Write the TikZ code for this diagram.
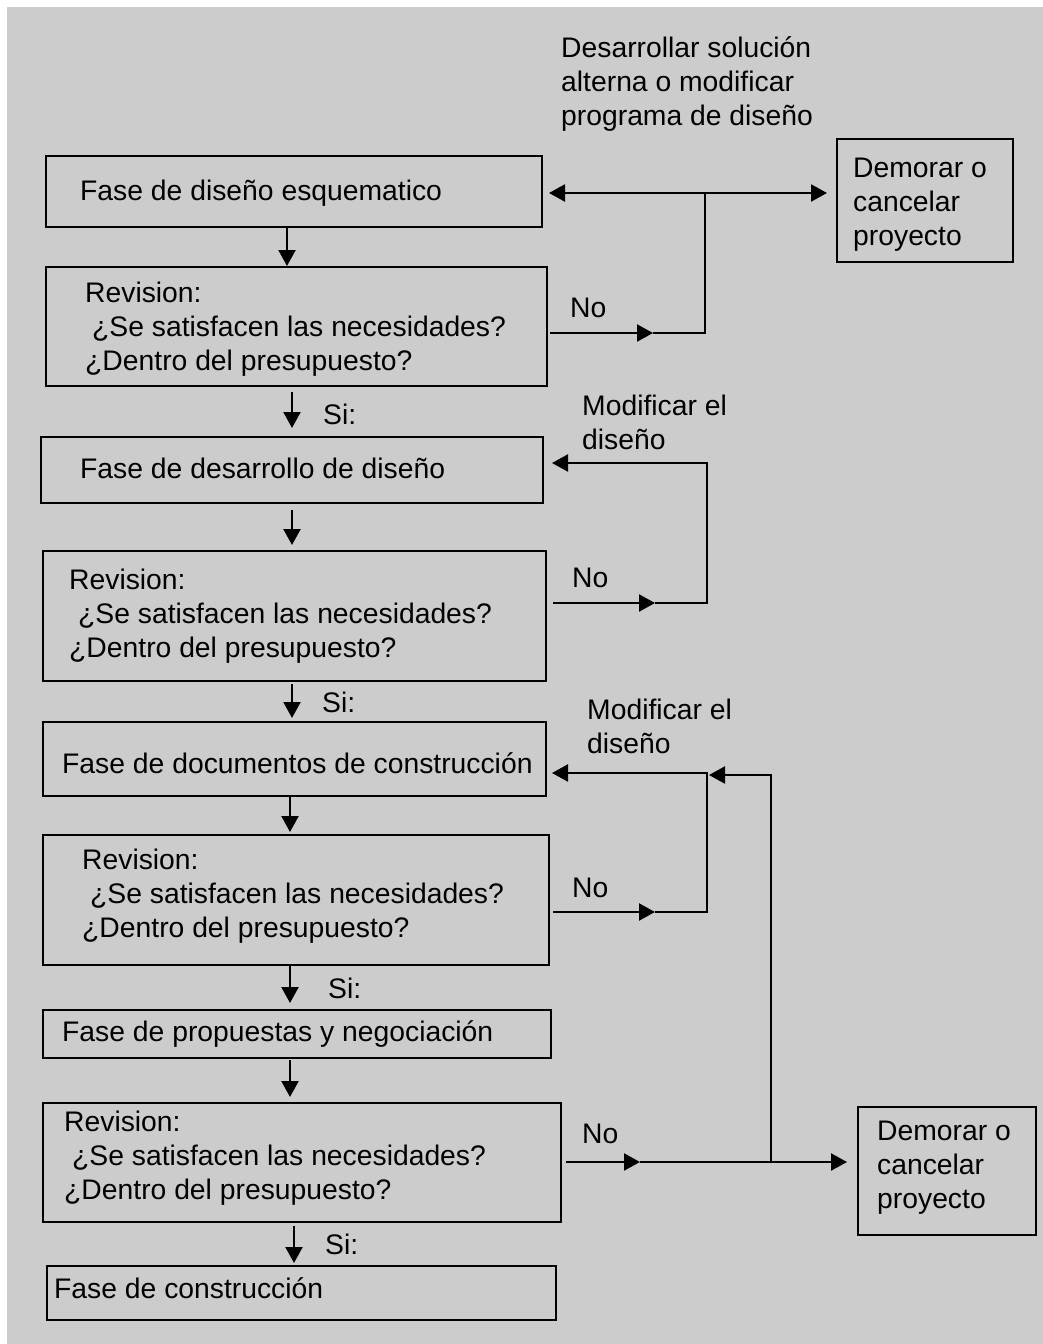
\documentclass[tikz,border=0pt]{standalone}
\usepackage{fontspec}
\setmainfont{Liberation Sans}
\usetikzlibrary{arrows.meta,calc}

\definecolor{panel}{HTML}{CCCCCC}

\begin{document}
\begin{tikzpicture}[x=1pt,y=-1pt,
  box/.style={draw, line width=2pt, inner sep=0pt, outer sep=0pt},
  txt/.style={inner sep=0pt, align=left, anchor=west,
    font=\fontsize{28.3}{34}\selectfont},
  line/.style={line width=2.2pt},
  arr/.style={line width=2.2pt, -{Triangle[length=16pt,width=17pt]}},
  biarr/.style={line width=2.2pt, {Triangle[length=16pt,width=17pt]}-{Triangle[length=16pt,width=17pt]}}
]
\useasboundingbox (0,0) rectangle (1043,1344);
\fill[white] (0,0) rectangle (1043,1344);
\fill[panel] (7,7) rectangle (1043,1344);

% main column of phases and reviews
\node[box, minimum width=496pt, minimum height=71pt]  (b1) at (294,191.5) {};
\node[box, minimum width=501pt, minimum height=119pt] (r1) at (296.5,326.5) {};
\node[box, minimum width=502pt, minimum height=66pt]  (b2) at (292,470) {};
\node[box, minimum width=503pt, minimum height=130pt] (r2) at (294.5,616) {};
\node[box, minimum width=503pt, minimum height=74pt]  (b3) at (294.5,759) {};
\node[box, minimum width=506pt, minimum height=130pt] (r3) at (296,900) {};
\node[box, minimum width=508pt, minimum height=48pt]  (b4) at (297,1034) {};
\node[box, minimum width=518pt, minimum height=119pt] (r4) at (302,1162.5) {};
\node[box, minimum width=509pt, minimum height=54pt]  (b5) at (301.5,1293) {};
% side boxes
\node[box, minimum width=176pt, minimum height=123pt] (d1) at (925,200.5) {};
\node[box, minimum width=178pt, minimum height=128pt] (d2) at (947,1171) {};

% box texts
\node[txt] (b1t) at ($(b1.west)+(34,1.5)$) {Fase de diseño esquematico};
\node[txt] (r1t) at ($(r1.west)+(39,2.5)$) {Revision:\\\hspace*{7pt}¿Se satisfacen las necesidades?\\¿Dentro del presupuesto?};
\node[txt] (b2t) at ($(b2.west)+(39,-2)$) {Fase de desarrollo de diseño};
\node[txt] (r2t) at ($(r2.west)+(26,0)$) {Revision:\\\hspace*{9pt}¿Se satisfacen las necesidades?\\¿Dentro del presupuesto?};
\node[txt] (b3t) at ($(b3.west)+(19,4)$) {Fase de documentos de construcción};
\node[txt] (r3t) at ($(r3.west)+(39,-4)$) {Revision:\\\hspace*{8pt}¿Se satisfacen las necesidades?\\¿Dentro del presupuesto?};
\node[txt] (b4t) at ($(b4.west)+(19,0)$) {Fase de propuestas y negociación};
\node[txt] (r4t) at ($(r4.west)+(21,-4)$) {Revision:\\\hspace*{8pt}¿Se satisfacen las necesidades?\\¿Dentro del presupuesto?};
\node[txt] (b5t) at ($(b5.west)+(7,-5)$) {Fase de construcción};
\node[txt] (d1t) at ($(d1.west)+(16,4)$) {Demorar o\\cancelar\\proyecto};
\node[txt] (d2t) at ($(d2.west)+(19,-3)$) {Demorar o\\cancelar\\proyecto};

% free labels
\node[txt] (alt)  at (561,84)  {Desarrollar solución\\alterna o modificar\\programa de diseño};
\node[txt] (mod1) at (582,422) {Modificar el\\diseño};
\node[txt] (mod2) at (587,726) {Modificar el\\diseño};
\node[txt] (no1) at (570,308)  {No};
\node[txt] (no2) at (572,578)  {No};
\node[txt] (no3) at (572,888)  {No};
\node[txt] (no4) at (582,1134) {No};
\node[txt] (si1) at (323,414)  {Si:};
\node[txt] (si2) at (322,702)  {Si:};
\node[txt] (si3) at (328,988)  {Si:};
\node[txt] (si4) at (325,1244) {Si:};

% downward flow
\draw[arr] ($(b1.south)+(-7,0)$)   -- ($(r1.north)+(-9.5,-1)$);
\draw[arr] ($(r1.south)+(-4.5,6)$) -- ($(b2.north)+(0,-9)$);
\draw[arr] ($(b2.south)+(0,7)$)    -- ($(r2.north)+(-2.5,-6)$);
\draw[arr] ($(r2.south)+(-2.5,3)$) -- ($(b3.north)+(-2.5,-4)$);
\draw[arr] ($(b3.south)+(-4.5,1)$) -- ($(r3.north)+(-6,-3)$);
\draw[arr] ($(r3.south)+(-6,1)$)   -- ($(b4.north)+(-7,-7)$);
\draw[arr] ($(b4.south)+(-7,2)$)   -- ($(r4.north)+(-12,-6)$);
\draw[arr] ($(r4.south)+(-8,4)$)   -- ($(b5.north)+(-7.5,-3)$);

% junction points of the return lines
\coordinate (j1) at (705,193);
\coordinate (k1) at (705,333);
\coordinate (n1) at (653,333);
\coordinate (j2) at (707,463);
\coordinate (k2) at (707,603);
\coordinate (n2) at (655,603);
\coordinate (j3) at (707,773);
\coordinate (k3) at (707,912);
\coordinate (n3) at (655,912);
\coordinate (j4) at (771,775);
\coordinate (m4) at (709,775);
\coordinate (k4) at (771,1162);
\coordinate (n4) at (640,1162);

% first review: back to the schematic phase or delay
\draw[biarr] ($(b1.east)+(7,1.5)$) -- ($(d1.west)+(-10,-7.5)$);
\draw[arr] ($(r1.east)+(3,6.5)$) -- (n1);
\draw[line] (n1) -- (k1) -- (j1);

% second review: modify the design
\draw[arr] ($(r2.east)+(7,-13)$) -- (n2);
\draw[arr] (n2) -- (k2) -- (j2) -- ($(b2.east)+(9,-7)$);

% third review: modify the design
\draw[arr] ($(r3.east)+(4,12)$) -- (n3);
\draw[arr] (n3) -- (k3) -- (j3) -- ($(b3.east)+(6,14)$);

% fourth review: back to construction documents or delay
\draw[arr] ($(r4.east)+(5,-0.5)$) -- (n4);
\draw[arr] (n4) -- ($(d2.west)+(-11,-9)$);
\draw[arr] (k4) -- (j4) -- (m4);
\end{tikzpicture}
\end{document}
